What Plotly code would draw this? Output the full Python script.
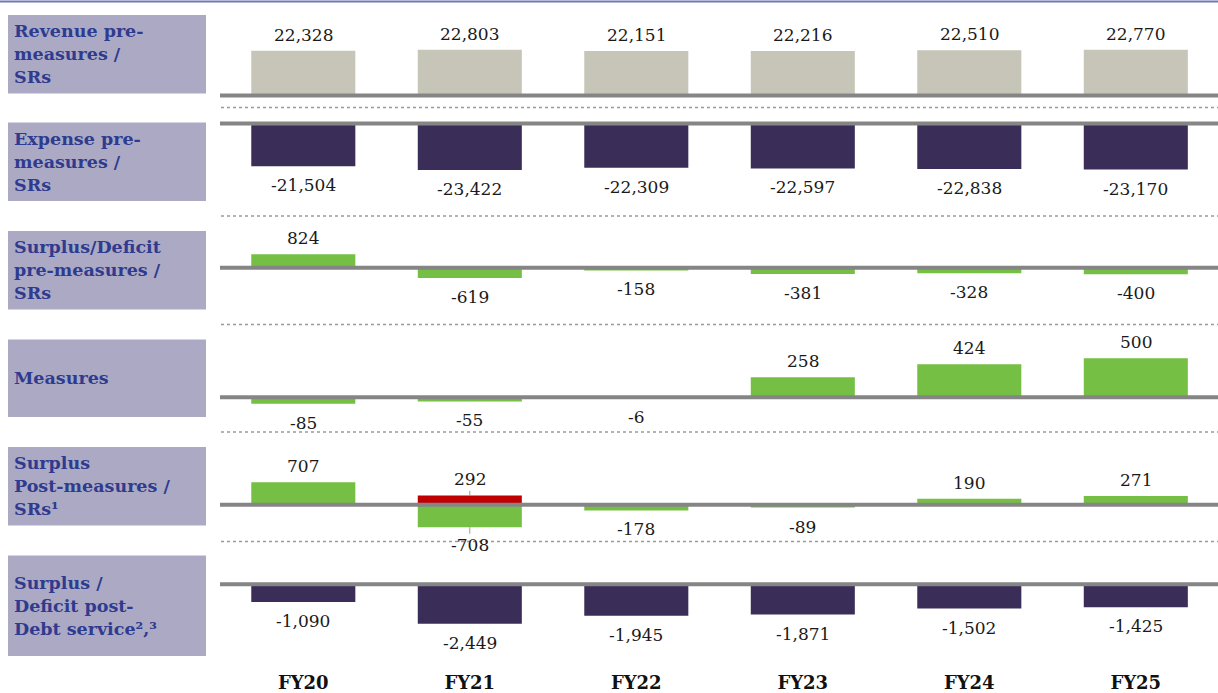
import plotly.graph_objects as go

years = ['FY20', 'FY21', 'FY22', 'FY23', 'FY24', 'FY25']
revenue = [22328, 22803, 22151, 22216, 22510, 22770]
expense = [-21504, -23422, -22309, -22597, -22838, -23170]
surplus_pre = [824, -619, -158, -381, -328, -400]
measures = [-85, -55, -6, 258, 424, 500]
surplus_post = [707, -708, -178, -89, 190, 271]
surplus_post_red = [None, 292, None, None, None, None]
surplus_debt = [-1090, -2449, -1945, -1871, -1502, -1425]

row_names = [
    'Revenue pre-<br>measures /<br>SRs',
    'Expense pre-<br>measures /<br>SRs',
    'Surplus/Deficit<br>pre-measures /<br>SRs',
    'Measures',
    'Surplus<br>Post-measures /<br>SRs¹',
    'Surplus /<br>Deficit post-<br>Debt service²,³',
]

W, H_FIG, H = 1218, 693, 663   # H = plot area height (pixels)
GREEN, RED, PURPLE, BEIGE = '#74bf44', '#c00000', '#3a2d58', '#c6c5b8'
FONT = 'DejaVu Serif'

# per row: baseline pixel, px per unit, label box top/bottom
rows = [
    dict(base=96, k=0.00202, box=(15, 94)),
    dict(base=124, k=0.00200, box=(123, 202)),
    dict(base=269, k=0.0165, box=(232, 311)),
    dict(base=399, k=0.078, box=(341, 419)),
    dict(base=507, k=0.032, box=(449, 528)),
    dict(base=587, k=0.0162, box=(558, 659)),
]
dotted = [108, 217, 326, 434, 544]


def py(p):
    return (H - p) / H


def px(p):
    return p / W


fig = go.Figure()
series = [(revenue, BEIGE), (expense, PURPLE), (surplus_pre, GREEN),
          (measures, GREEN), (surplus_post, GREEN), (surplus_debt, PURPLE)]

annotations = []
shapes = []
for i, (vals, col) in enumerate(series):
    yname = 'y' if i == 0 else f'y{i + 1}'
    fig.add_trace(go.Bar(x=years, y=vals, yaxis=yname, width=0.625,
                         marker=dict(color=col, line=dict(width=0)),
                         showlegend=False, hoverinfo='x+y'))
    if i == 4:
        fig.add_trace(go.Bar(x=years, y=surplus_post_red, yaxis=yname, width=0.625,
                             marker=dict(color=RED, line=dict(width=0)),
                             showlegend=False, hoverinfo='x+y'))
    for j, v in enumerate(vals):
        if i == 4 and j == 1:
            continue
        annotations.append(dict(x=years[j], y=v, xref='x', yref=yname,
                                text=f'{v:,}', showarrow=False,
                                yshift=16 if v > 0 else -19,
                                font=dict(family=FONT, size=17, color='#1a1a1a')))
    r = rows[i]
    b, k = r['base'], r['k']
    ax = dict(range=[(b - H) / k, b / k], visible=False, fixedrange=True)
    if i > 0:
        ax['overlaying'] = 'y'
    fig.layout['yaxis' if i == 0 else f'yaxis{i + 1}'] = ax
    # baseline
    shapes.append(dict(type='line', xref='paper', yref=yname, x0=px(220), x1=1,
                       y0=0, y1=0, line=dict(color='#858585', width=4), layer='above'))
    # label box
    t, bt = r['box']
    shapes.append(dict(type='rect', xref='paper', yref='paper', x0=px(8), x1=px(206),
                       y0=py(bt), y1=py(t), fillcolor='#aba9c4', line=dict(width=0),
                       layer='below'))
    annotations.append(dict(x=px(12), y=py((t + bt) / 2), xref='paper', yref='paper',
                            xanchor='left', yanchor='middle', align='left',
                            text=f'<b>{row_names[i]}</b>', showarrow=False,
                            font=dict(family=FONT, size=17.5, color='#2e3b8e')))

# FY21 post-measures labels with leader lines
for v in (surplus_post_red[1], surplus_post[1]):
    annotations.append(dict(x=years[1], y=v, xref='x', yref='y5', text=f'{v:,}',
                            showarrow=True, arrowhead=0, arrowwidth=1,
                            arrowcolor='#999999', ax=0, ay=-16 if v > 0 else 18,
                            font=dict(family=FONT, size=17, color='#1a1a1a')))

for d in dotted:
    shapes.append(dict(type='line', xref='paper', yref='paper', x0=px(221), x1=1,
                       y0=py(d), y1=py(d),
                       line=dict(color='#9a9a9a', width=1.5, dash='dot')))

# top rule
shapes.append(dict(type='line', xref='paper', yref='paper', x0=0, x1=1,
                   y0=py(1.5), y1=py(1.5), line=dict(color='#6e78b8', width=2)))

c0, step = 303.3, 166.5
fig.update_layout(
    width=W, height=H_FIG,
    margin=dict(l=0, r=0, t=0, b=H_FIG - H),
    plot_bgcolor='white', paper_bgcolor='white',
    barmode='overlay',
    xaxis=dict(type='category', range=[-c0 / step, (W - c0) / step],
               showgrid=False, zeroline=False, showline=False,
               ticks='outside', ticklen=6, tickcolor='rgba(0,0,0,0)',
               tickfont=dict(family=FONT, size=18, color='#111111'),
               tickprefix='<b>', ticksuffix='</b>', fixedrange=True),
    shapes=shapes,
    annotations=annotations,
)

fig.write_html('out.html', config={'displayModeBar': False},
               post_script="document.body.style.margin='0';")
